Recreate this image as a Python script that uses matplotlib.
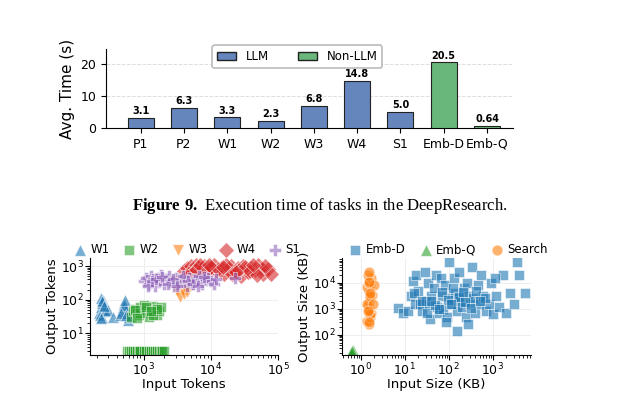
import matplotlib
matplotlib.use("Agg")
import matplotlib as mpl
import matplotlib.pyplot as plt
from matplotlib.patches import Patch

mpl.rcParams["mathtext.fontset"] = "custom"
mpl.rcParams["mathtext.bf"] = "Liberation Serif:bold"
mpl.rcParams["mathtext.rm"] = "Liberation Serif"

tasks = ["P1", "P2", "W1", "W2", "W3", "W4", "S1", "Emb-D", "Emb-Q"]
times = [3.1, 6.3, 3.3, 2.3, 6.8, 14.8, 5.0, 20.5, 0.64]
labels = ["3.1", "6.3", "3.3", "2.3", "6.8", "14.8", "5.0", "20.5", "0.64"]
is_llm = [True, True, True, True, True, True, True, False, False]

w1_x = [220, 230, 240, 250, 235, 260, 245, 225, 270, 255, 240, 300, 350, 450, 480, 500, 520, 540, 560, 580, 600, 510, 470, 530, 550, 230, 260]
w1_y = [40, 60, 80, 100, 110, 50, 30, 35, 45, 70, 90, 50, 30, 35, 45, 60, 80, 55, 40, 25, 30, 70, 40, 100, 35, 28, 65]
w2_x = [650, 700, 750, 800, 850, 900, 1000, 1100, 1200, 1300, 1400, 1500, 1600, 1700, 1800, 1200, 900, 1000, 750, 1400, 1600, 1100, 800, 1300,
        560, 600, 650, 700, 750, 800, 850, 900, 1000, 1100, 1200, 1300, 1400, 1500, 1600, 1700, 1800, 1900, 2000]
w2_y = [30, 45, 55, 40, 35, 60, 50, 45, 40, 55, 65, 50, 35, 45, 60, 30, 40, 70, 50, 35, 55, 62, 28, 48,
        3, 3, 3, 3, 3, 3, 3, 3, 3, 3, 3, 3, 3, 3, 3, 3, 3, 3, 3]
w3_x = [3200, 3500, 3800, 4000, 4300, 3600, 4500, 3000]
w3_y = [180, 120, 200, 150, 250, 300, 170, 350]
w4_x = [4000, 4500, 5000, 5500, 6000, 6500, 7000, 7500, 8000, 9000, 10000, 11000, 12000, 14000, 16000, 18000, 20000, 22000, 25000, 28000,
        30000, 33000, 36000, 40000, 45000, 50000, 55000, 60000, 70000, 80000, 5000, 6000, 7000, 8500, 10000, 13000, 17000, 21000, 26000, 32000, 38000, 48000, 65000, 4500, 9500, 15000, 24000, 42000]
w4_y = [700, 900, 1000, 800, 1100, 950, 700, 850, 1000, 900, 800, 1050, 700, 900, 600, 800, 1000, 700, 900, 500,
        1000, 800, 650, 900, 750, 1050, 850, 600, 800, 600, 600, 750, 1100, 650, 950, 800, 1050, 600, 750, 950, 700, 550, 1000, 500, 1050, 950, 650, 1050]
s1_x = [1000, 1100, 1200, 1300, 1400, 1500, 1600, 1700, 1800, 2000, 2200, 2400, 2600, 2800, 3000, 3300, 3600, 4000, 4400, 4800, 5200, 5700,
        6200, 6800, 7500, 8200, 9000, 10000, 11000, 12000, 1150, 1350, 1550, 1900, 2300, 2700, 3200, 3800, 4600, 5500, 6500, 8000, 23000]
s1_y = [350, 450, 300, 500, 400, 250, 450, 350, 550, 300, 400, 500, 350, 250, 450, 300, 400, 350, 250, 450, 300, 400,
        350, 500, 300, 400, 450, 350, 300, 400, 250, 350, 420, 480, 300, 420, 250, 500, 350, 300, 250, 480, 450]

embd_x = [7, 9, 12, 14, 15, 17, 18, 20, 22, 25, 28, 30, 33, 35, 38, 40, 45, 50, 55, 60, 65, 70, 75, 80, 90, 100, 110, 120, 130, 140, 150, 160, 170,
          180, 200, 220, 240, 260, 280, 300, 330, 360, 400, 450, 500, 550, 600, 700, 800, 900, 1000, 1200, 1400, 1700, 2000, 2500, 3000, 3500, 4000, 5500,
          16, 24, 32, 48, 70, 95, 125, 175, 230, 320, 420, 650, 1100, 40, 60, 85, 150, 270, 500, 110, 210]
embd_y = [1100, 700, 800, 3000, 12000, 1500, 20000, 5000, 1500, 800, 25000, 2000, 10000, 1500, 400, 3000, 6000, 20000, 1200, 700, 15000, 3000, 1000, 8000,
          500, 60000, 2500, 1500, 15000, 4000, 800, 3000, 25000, 2000, 1200, 6000, 500, 10000, 3000, 1500, 40000, 2500, 700, 8000, 1500, 20000, 3000, 800, 1500,
          10000, 600, 3000, 1200, 20000, 700, 4000, 1500, 60000, 20000, 4000,
          4000, 2000, 700, 1400, 4500, 2200, 6000, 2800, 1800, 1100, 5000, 2600, 15000, 2000, 1000, 300, 140, 250, 2000, 1500, 4500]
embq_x = [0.6, 0.62, 0.65, 0.58, 0.63]
embq_y = [20, 22, 25, 21, 23]
search_x = [1.5, 1.4, 1.6, 1.7, 1.5, 1.45, 1.55, 1.65, 1.8, 1.5, 1.4, 1.6, 1.5, 1.7, 1.45, 1.55, 1.6, 1.5, 1.4, 1.6, 2.0, 1.9, 1.5, 1.65, 1.55, 1.45]
search_y = [250, 350, 500, 700, 1000, 1300, 1800, 2500, 3500, 5000, 7000, 9000, 12000, 15000, 20000, 25000, 600, 900, 1500, 3000, 8000, 1500, 300, 4000, 11000, 800]

fig = plt.figure(figsize=(6.4, 4.0), dpi=100)
W, H = 640, 400
def ax_px(l, t, r, b):
    return fig.add_axes([l / W, 1 - b / H, (r - l) / W, (b - t) / H])

ax = ax_px(106, 49, 513, 128)
cols = ["#6585bd" if l else "#6ab77b" for l in is_llm]
bars = ax.bar(tasks, times, width=0.6, color=cols, edgecolor="#222222", linewidth=0.8, zorder=3)
for b, t in zip(bars, labels):
    ax.text(b.get_x() + b.get_width() / 2, b.get_height() + 0.6, t, ha="center", va="bottom", fontsize=7, fontweight="bold")
ax.set_ylim(0, 24.7)
ax.set_xlim(-0.8, 8.6)
ax.set_yticks([0, 10, 20])
ax.grid(axis="y", ls="--", color="#dddddd", lw=0.7, zorder=0)
ax.spines["top"].set_visible(False)
ax.spines["right"].set_visible(False)
ax.tick_params(labelsize=9)
ax.set_ylabel("Avg. Time (s)", fontsize=11)
leg = ax.legend(handles=[Patch(fc="#6585bd", ec="#222222", label="LLM"), Patch(fc="#6ab77b", ec="#222222", label="Non-LLM")],
          loc="upper center", bbox_to_anchor=(0.47, 1.12), ncol=2, fontsize=8.5, columnspacing=2.5, handlelength=1.6, framealpha=1)
leg.get_frame().set_edgecolor("#bbbbbb")
leg.get_frame().set_linewidth(1.2)

fig.text(0.5, 1 - 206 / H, r"$\mathbf{Figure\ 9.}$ Execution time of tasks in the DeepResearch.", ha="center", va="center",
         fontsize=12, family="Liberation Serif")

kw = dict(alpha=0.6, edgecolors="white", linewidths=0.6)
a1 = ax_px(90, 258, 278, 355)
a1.scatter(w1_x, w1_y, marker="^", s=70, color="#1f77b4", label="W1", **kw)
a1.scatter(w2_x, w2_y, marker="s", s=60, color="#2ca02c", label="W2", **kw)
a1.scatter(w3_x, w3_y, marker="v", s=70, color="#ff7f0e", label="W3", **kw)
a1.scatter(w4_x, w4_y, marker="D", s=65, color="#d62728", label="W4", **kw)
a1.scatter(s1_x, s1_y, marker="P", s=75, color="#9467bd", label="S1", **kw)
a1.set_xscale("log"); a1.set_yscale("log")
a1.set_xlim(160, 1e5); a1.set_ylim(2.3, 10**3.24)
a1.set_xlabel("Input Tokens", fontsize=9.5, labelpad=0)
a1.set_ylabel("Output Tokens", fontsize=9.5, labelpad=1)
a1.legend(loc="lower left", bbox_to_anchor=(-0.12, 0.97), ncol=5, frameon=False, fontsize=8.5, handletextpad=0.2,
          columnspacing=0.9, borderaxespad=0, handlelength=1.4)

a2 = ax_px(342, 258, 531, 355)
a2.scatter(embd_x, embd_y, marker="s", s=60, color="#1f77b4", label="Emb-D", **kw)
a2.scatter(embq_x, embq_y, marker="^", s=70, color="#2ca02c", label="Emb-Q", **kw)
a2.scatter(search_x, search_y, marker="o", s=60, color="#ff7f0e", label="Search", **kw)
a2.set_xscale("log"); a2.set_yscale("log")
a2.set_xlim(10**-0.43, 10**3.87); a2.set_ylim(10**1.22, 10**4.95)
a2.set_xlabel("Input Size (KB)", fontsize=9.5, labelpad=0)
a2.set_ylabel("Output Size (KB)", fontsize=9.5, labelpad=1)
a2.legend(loc="lower left", bbox_to_anchor=(0.0, 0.97), ncol=3, frameon=False, fontsize=8.5, handletextpad=0.2,
          columnspacing=1.0, borderaxespad=0, handlelength=1.4)

for a in (a1, a2):
    a.spines["top"].set_visible(False); a.spines["right"].set_visible(False)
    a.grid(True, color="#eeeeee", lw=0.7, zorder=0)
    a.set_axisbelow(True)
    a.tick_params(labelsize=9, pad=1)

fig.savefig("out.png", dpi=100)
